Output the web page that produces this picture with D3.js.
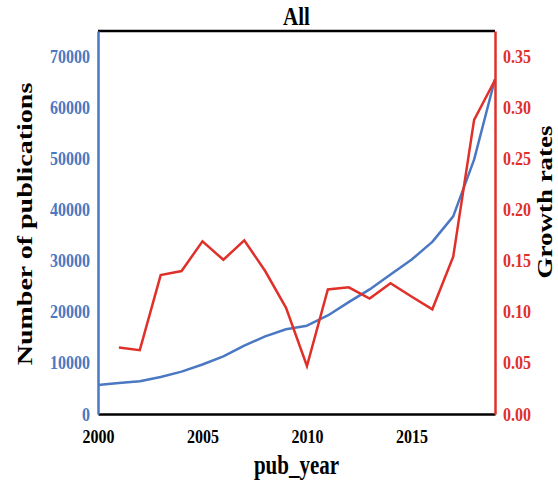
<!DOCTYPE html>
<html>
<head>
<meta charset="utf-8">
<script src="https://cdn.jsdelivr.net/npm/d3@7"></script>
<style>
  html, body { margin: 0; padding: 0; background: #fff; }
</style>
</head>
<body>
<svg id="chart" width="558" height="484"></svg>
<script>
// Publications per year and their year-over-year growth
const years = [2000, 2001, 2002, 2003, 2004, 2005, 2006, 2007, 2008, 2009,
               2010, 2011, 2012, 2013, 2014, 2015, 2016, 2017, 2018, 2019];
const publications = [5700, 6050, 6400, 7250, 8300, 9700, 11300, 13400, 15200, 16600,
                      17300, 19300, 21900, 24400, 27300, 30200, 33700, 38700, 49800, 65600];
const growthRates = [null, 0.065, 0.0625, 0.136, 0.140, 0.169, 0.151, 0.170, 0.140, 0.104,
                     0.047, 0.122, 0.124, 0.113, 0.128, 0.115, 0.1025, 0.154, 0.288, 0.327];
const xTicks = [2000, 2005, 2010, 2015];
const leftTicks = [0, 10000, 20000, 30000, 40000, 50000, 60000, 70000];
const rightTicks = [0, 0.05, 0.10, 0.15, 0.20, 0.25, 0.30, 0.35];

const BLUE = "#4a78c2";
const RED = "#e0302a";
const FONT = "Liberation Serif";

const svg = d3.select("#chart");
const m = { left: 98, right: 495, top: 31, bottom: 414 };

const x = d3.scaleLinear().domain([2000, 2019]).range([m.left, m.right]);
const yL = d3.scaleLinear().domain([0, 75000]).range([m.bottom, m.top]);
const yR = d3.scaleLinear().domain([0, 0.375]).range([m.bottom, m.top]);

// Text is drawn slightly tall and narrow, like a stretched serif
const SY = 1.2;

// Frame top edge
svg.append("line").attr("x1", m.left).attr("x2", m.right).attr("y1", m.top).attr("y2", m.top)
  .attr("stroke", "#000").attr("stroke-width", 2.5);

// Data lines
const lineL = d3.line().x((d, i) => x(years[i])).y(d => yL(d));
svg.append("path").datum(publications).attr("d", lineL)
  .attr("fill", "none").attr("stroke", BLUE).attr("stroke-width", 2.5).attr("stroke-linejoin", "round");

const lineR = d3.line().defined(d => d != null).x((d, i) => x(years[i])).y(d => yR(d));
svg.append("path").datum(growthRates).attr("d", lineR)
  .attr("fill", "none").attr("stroke", RED).attr("stroke-width", 2.5).attr("stroke-linejoin", "miter");

// Axes
function styleAxis(g, color) {
  g.attr("font-family", FONT).attr("font-weight", "bold");
  g.select(".domain").attr("stroke", color).attr("stroke-width", 2.5);
  g.selectAll("text").attr("font-family", FONT).attr("font-weight", "bold")
    .attr("font-size", 16).attr("dy", null);
}

const xAxis = svg.append("g").attr("transform", `translate(0,${m.bottom})`)
  .call(d3.axisBottom(x).tickValues(xTicks).tickSize(0).tickPadding(0).tickFormat(d3.format("d")));
styleAxis(xAxis, "#000");
xAxis.selectAll("text").attr("fill", "#000").attr("y", 0)
  .attr("transform", `translate(0,29) scale(1,${SY})`);

const lAxis = svg.append("g").attr("transform", `translate(${m.left},0)`)
  .call(d3.axisLeft(yL).tickValues(leftTicks).tickSize(0).tickPadding(0).tickFormat(d3.format("d")));
styleAxis(lAxis, BLUE);
lAxis.selectAll("text").attr("fill", BLUE).attr("x", 0)
  .attr("transform", `translate(-8,6) scale(1,${SY})`);

const rAxis = svg.append("g").attr("transform", `translate(${m.right},0)`)
  .call(d3.axisRight(yR).tickValues(rightTicks).tickSize(0).tickPadding(0).tickFormat(d3.format(".2f")));
styleAxis(rAxis, RED);
rAxis.selectAll("text").attr("fill", RED).attr("x", 0)
  .attr("transform", `translate(8,6) scale(1,${SY})`);

// Titles
function title(txt, size, transform) {
  svg.append("text").attr("text-anchor", "middle").attr("font-size", size)
    .attr("font-family", FONT).attr("font-weight", "bold").attr("fill", "#000")
    .attr("transform", transform).text(txt);
}
title("All", 21, `translate(${(m.left + m.right) / 2},25) scale(1,${SY})`);
title("pub_year", 21, `translate(${(m.left + m.right) / 2},474) scale(1,1.3)`);
title("Number of publications", 20, `translate(32,224) rotate(-90) scale(1.4,1)`);
title("Growth rates", 20, `translate(552,202) rotate(-90) scale(1.35,1)`);
</script>
</body>
</html>
